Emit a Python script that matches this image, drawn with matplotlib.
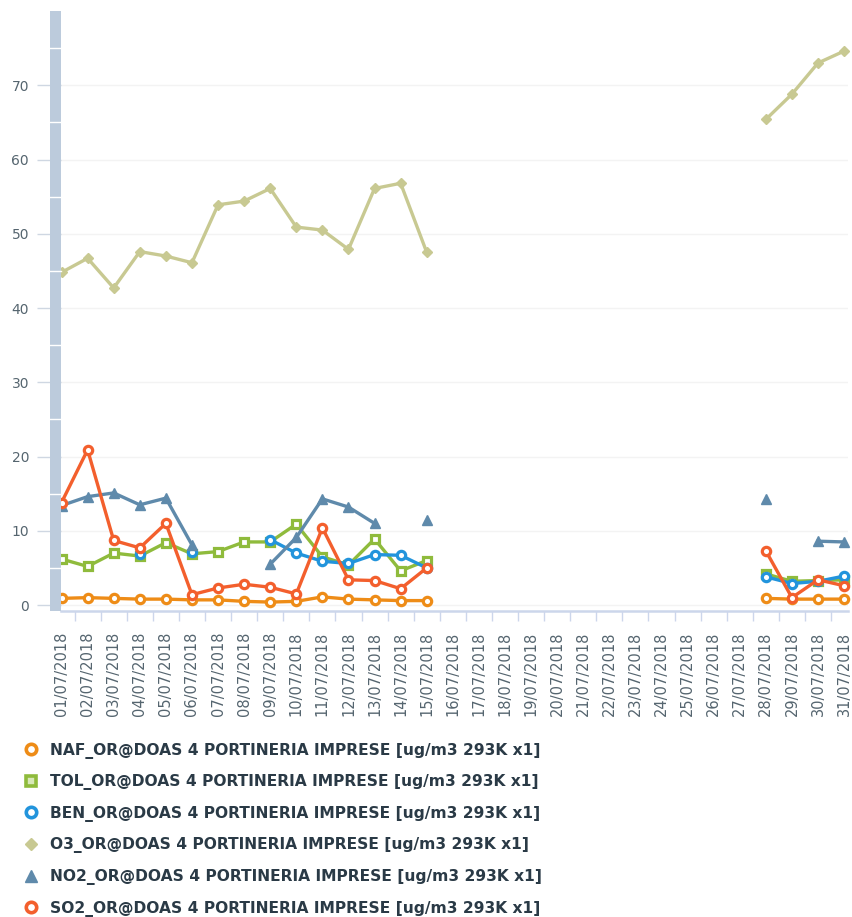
import numpy as np
import matplotlib
matplotlib.use('Agg')
import matplotlib.pyplot as plt
from matplotlib.lines import Line2D
from matplotlib.patches import Rectangle
import matplotlib.transforms as mtransforms

# giorni di luglio 2018
days = [f'{d:02d}/07/2018' for d in range(1, 32)]
nan = np.nan

naf = [0.9, 1.0, 0.9, 0.8, 0.8, 0.7, 0.7, 0.5, 0.4, 0.5, 1.1, 0.8, 0.7, 0.6, 0.6,
       nan, nan, nan, nan, nan, nan, nan, nan, nan, nan, nan, nan,
       0.9, 0.8, 0.8, 0.8]
tol = [6.2, 5.2, 7.0, 6.6, 8.4, 6.9, 7.2, 8.5, 8.5, 10.9, 6.5, 5.4, 8.9, 4.6, 6.0,
       nan, nan, nan, nan, nan, nan, nan, nan, nan, nan, nan, nan,
       4.2, 3.2, 3.3, 3.4]
ben = [nan, nan, nan, 6.9, nan, 7.1, nan, nan, 8.8, 7.0, 5.9, 5.6, 6.8, 6.7, 5.0,
       nan, nan, nan, nan, nan, nan, nan, nan, nan, nan, nan, nan,
       3.8, 2.9, 3.2, 3.9]
o3 = [44.8, 46.7, 42.7, 47.6, 47.0, 46.1, 53.9, 54.4, 56.1, 50.9, 50.5, 47.9, 56.1, 56.8, 47.5,
      nan, nan, nan, nan, nan, nan, nan, nan, nan, nan, nan, nan,
      65.4, 68.8, 73.0, 74.6]
no2 = [13.4, 14.6, 15.1, 13.5, 14.4, 8.1, nan, nan, 5.5, 9.1, 14.3, 13.2, 11.0, nan, 11.4,
       nan, nan, nan, nan, nan, nan, nan, nan, nan, nan, nan, nan,
       14.3, nan, 8.6, 8.5]
so2 = [13.8, 20.9, 8.7, 7.7, 11.0, 1.4, 2.3, 2.8, 2.4, 1.5, 10.4, 3.4, 3.3, 2.2, 5.0,
       nan, nan, nan, nan, nan, nan, nan, nan, nan, nan, nan, nan,
       7.3, 1.0, 3.4, 2.6]

suffix = '_OR@DOAS 4 PORTINERIA IMPRESE [ug/m3 293K x1]'
names = ['NAF', 'TOL', 'BEN', 'O3', 'NO2', 'SO2']

# stile di ogni serie: colore, marker, riempimento
styles = [
    ('#ee8c17', 'o', 'white'),
    ('#8fbb3c', 's', 'white'),
    ('#2294dc', 'o', 'white'),
    ('#c8c992', 'D', '#c8c992'),
    ('#5f8aab', '^', '#5f8aab'),
    ('#f35f2d', 'o', 'white'),
]
series = [naf, tol, ben, o3, no2, so2]

plt.rcParams['font.family'] = 'DejaVu Sans'
fig = plt.figure(figsize=(8.52, 9.17), dpi=100)
ax = fig.add_axes([61 / 852, 1 - 611 / 917, 787 / 852, 600 / 917])

x = np.arange(len(days))
for vals, (col, mk, fc) in zip(series, styles):
    ms, mew = 6, 2.3
    if mk == 'D':
        ms, mew = 5, 1
    if mk == '^':
        ms, mew = 7, 1
    ax.plot(x, vals, color=col, lw=2.4, marker=mk, ms=ms, mfc=fc, mec=col,
            mew=mew, zorder=3, clip_on=False)

ax.set_xlim(-0.02, 30.15)
ax.set_ylim(-0.8, 80)

# griglia leggera
ax.set_yticks(range(0, 80, 10))
ax.yaxis.grid(True, color='#f3f3f3', lw=1)
ax.set_axisbelow(True)

for s in ['top', 'right', 'left']:
    ax.spines[s].set_visible(False)
ax.spines['bottom'].set_color('#ccd6eb')
ax.spines['bottom'].set_linewidth(1.8)

ax.tick_params(axis='y', length=17, width=1, color='#cfd7e2', pad=6,
               labelsize=10, labelcolor='#55656f')
ax.set_xticks(x)
ax.set_xticklabels(days, rotation=90)
ax.set_xticks(x[:-1] + 0.5, minor=True)
ax.tick_params(axis='x', which='major', length=0, pad=15, labelsize=10.5,
               labelcolor='#55656f')
ax.tick_params(axis='x', which='minor', length=7, width=1, color='#ccd6eb')

# barra verticale a sinistra
bar_w = 11 / 787
ax.add_patch(Rectangle((-bar_w, 0), bar_w, 1.0, transform=ax.transAxes,
                       facecolor='#bccbdc', edgecolor='none', clip_on=False, zorder=4))
trans = mtransforms.blended_transform_factory(ax.transAxes, ax.transData)
for v in range(5, 80, 10):
    ax.plot([-bar_w, 0], [v, v], color='white', lw=1, transform=trans,
            clip_on=False, zorder=5)

# legenda
handles = []
for col, mk, fc in styles:
    ms, mew = 7.5, 2.6
    mfc = fc
    if mk == 's':
        mfc = '#d8e8b8'
    if mk == 'D':
        ms, mew = 6, 1
    if mk == '^':
        ms, mew = 8.5, 1
    handles.append(Line2D([], [], ls='none', marker=mk, ms=ms, mfc=mfc, mec=col, mew=mew))
labels = [n + suffix for n in names]
fig.legend(handles, labels, loc='upper left', bbox_to_anchor=(17 / 852, 1 - 735 / 917),
           frameon=False, borderpad=0, handlelength=0.8, handletextpad=0.85,
           labelspacing=1.0, prop={'size': 11.2, 'weight': 'bold'},
           labelcolor='#2a3a46')

fig.savefig('out.png', dpi=100, facecolor='white')
